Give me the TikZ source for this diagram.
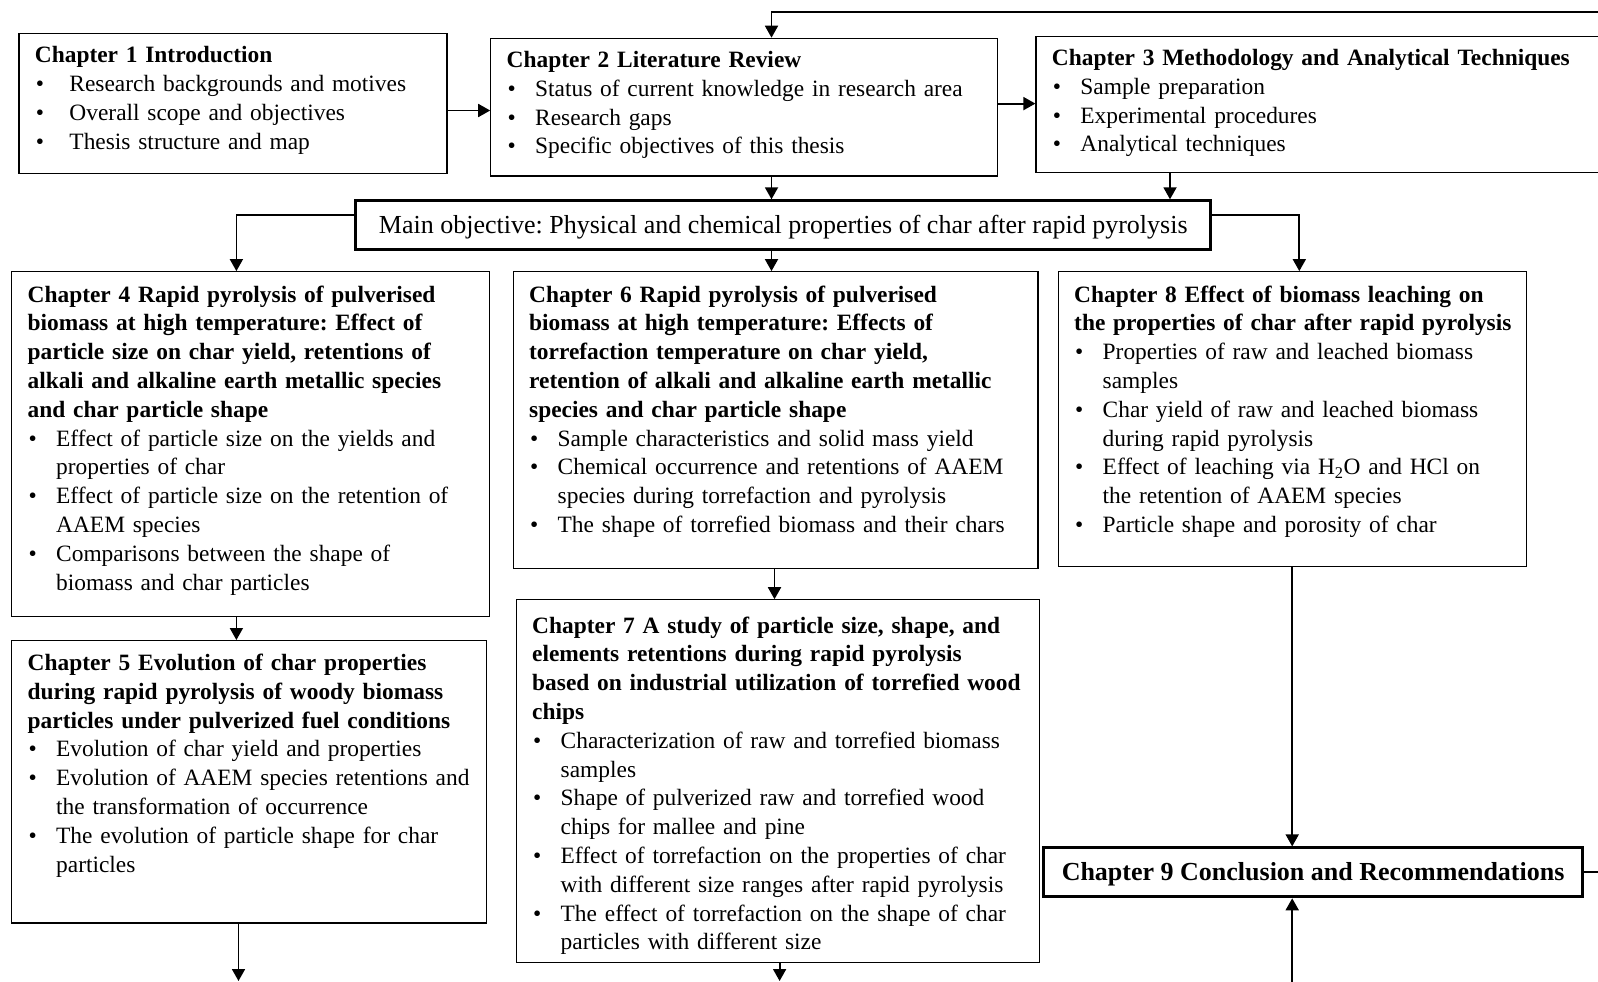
\documentclass[tikz,border=0pt]{standalone}
\usepackage{fontspec}
\setmainfont{Liberation Serif}
\usetikzlibrary{arrows.meta}
\frenchspacing
\newlength{\bind}
\newcommand{\bl}{\makebox[\bind][l]{\hspace{1pt}\textbullet}}
\newcommand{\cl}{\hspace*{\bind}}
\tikzset{
  box/.style={draw=black, line width=1.2pt, anchor=north west, inner sep=0pt},
  tbox/.style={draw=black, line width=3pt, inner sep=0pt, text height=16pt, text depth=0pt,
               font=\fontsize{26}{30}\selectfont},
  txt/.style={anchor=base west, inner sep=0pt, text width=640pt, align=left,
              font=\fontsize{23.4}{28.8}\selectfont},
  conn/.style={line width=1.8pt, -{Triangle[length=12pt,width=13pt]}},
  plainline/.style={line width=1.8pt},
}
\begin{document}
\begin{tikzpicture}[x=1pt,y=-1pt]
\clip (0,0) rectangle (1598,982);
\fill[white] (0,0) rectangle (1598,982);
% boxes
\node[box, minimum width=428.1, minimum height=140.6] (c1) at (18.3,32.6) {};
\node[box, minimum width=506.5, minimum height=137.6] (c2) at (490.2,37.7) {};
\node[box, minimum width=600, minimum height=136.5] (c3) at (1035.4,35.7) {};
\node[box, minimum width=478, minimum height=344.4] (c4) at (11.2,271.1) {};
\node[box, minimum width=524.8, minimum height=296.5] (c6) at (512.6,271.1) {};
\node[box, minimum width=467.8, minimum height=294.5] (c8) at (1057.8,271.1) {};
\node[box, minimum width=474.9, minimum height=282.3] (c5) at (11.2,640) {};
\node[box, minimum width=522.8, minimum height=362.8] (c7) at (515.7,599.2) {};
\node[tbox, minimum width=855, minimum height=48.9] (main) at (783.2,225.25)
  {Main objective: Physical and chemical properties of char after rapid pyrolysis};
\node[tbox, minimum width=539, minimum height=48.9] (c9) at (1313.1,872.35)
  {\textbf{Chapter 9 Conclusion and Recommendations}};
% texts
\node[txt] (t1) at (34.7,63) {\setlength{\bind}{34.6pt}%
\textbf{Chapter 1 Introduction}\\
\bl Research backgrounds and motives\\
\bl Overall scope and objectives\\
\bl Thesis structure and map};
\node[txt] (t2) at (506.5,67.5) {\setlength{\bind}{28.5pt}%
\textbf{Chapter 2 Literature Review}\\
\bl Status of current knowledge in research area\\
\bl Research gaps\\
\bl Specific objectives of this thesis};
\node[txt] (t3) at (1051.7,65.5) {\setlength{\bind}{28.5pt}%
\textbf{Chapter 3 Methodology and Analytical Techniques}\\
\bl Sample preparation\\
\bl Experimental procedures\\
\bl Analytical techniques};
\node[txt] (t4) at (27.5,302) {\setlength{\bind}{28.5pt}%
\textbf{Chapter 4 Rapid pyrolysis of pulverised}\\
\textbf{biomass at high temperature: Effect of}\\
\textbf{particle size on char yield, retentions of}\\
\textbf{alkali and alkaline earth metallic species}\\
\textbf{and char particle shape}\\
\bl Effect of particle size on the yields and\\
\cl properties of char\\
\bl Effect of particle size on the retention of\\
\cl AAEM species\\
\bl Comparisons between the shape of\\
\cl biomass and char particles};
\node[txt] (t6) at (529,302) {\setlength{\bind}{28.5pt}%
\textbf{Chapter 6 Rapid pyrolysis of pulverised}\\
\textbf{biomass at high temperature: Effects of}\\
\textbf{torrefaction temperature on char yield,}\\
\textbf{retention of alkali and alkaline earth metallic}\\
\textbf{species and char particle shape}\\
\bl Sample characteristics and solid mass yield\\
\bl Chemical occurrence and retentions of AAEM\\
\cl species during torrefaction and pyrolysis\\
\bl The shape of torrefied biomass and their chars};
\node[txt] (t8) at (1074,302) {\setlength{\bind}{28.5pt}%
\textbf{Chapter 8 Effect of biomass leaching on}\\
\textbf{the properties of char after rapid pyrolysis}\\
\bl Properties of raw and leached biomass\\
\cl samples\\
\bl Char yield of raw and leached biomass\\
\cl during rapid pyrolysis\\
\bl Effect of leaching via H\textsubscript{2}O and HCl on\\
\cl the retention of AAEM species\\
\bl Particle shape and porosity of char};
\node[txt] (t5) at (27.5,670.5) {\setlength{\bind}{28.5pt}%
\textbf{Chapter 5 Evolution of char properties}\\
\textbf{during rapid pyrolysis of woody biomass}\\
\textbf{particles under pulverized fuel conditions}\\
\bl Evolution of char yield and properties\\
\bl Evolution of AAEM species retentions and\\
\cl the transformation of occurrence\\
\bl The evolution of particle shape for char\\
\cl particles};
\node[txt] (t7) at (532,633) {\setlength{\bind}{28.5pt}%
\textbf{Chapter 7 A study of particle size, shape, and}\\
\textbf{elements retentions during rapid pyrolysis}\\
\textbf{based on industrial utilization of torrefied wood}\\
\textbf{chips}\\
\bl Characterization of raw and torrefied biomass\\
\cl samples\\
\bl Shape of pulverized raw and torrefied wood\\
\cl chips for mallee and pine\\
\bl Effect of torrefaction on the properties of char\\
\cl with different size ranges after rapid pyrolysis\\
\bl The effect of torrefaction on the shape of char\\
\cl particles with different size};
% helper coordinates
\coordinate (tr) at (1620,12.2);
\coordinate (tl) at (771.5,12.2);
\coordinate (x3) at (1170,0);
\coordinate (x4) at (236.4,0);
\coordinate (x8) at (1299.3,0);
\coordinate (x67) at (774.5,0);
\coordinate (x9) at (1292.2,0);
\coordinate (b9) at (1292.2,1000);
\coordinate (e9) at (1620,0);
\coordinate (b5) at (238.5,981);
\coordinate (b7) at (779.6,981);
% connectors
\draw[conn] ([yshift=-7pt]c1.east) -- ([yshift=-7pt]c1.east -| c2.west);
\draw[conn] ([yshift=3.5pt]c2.east) -- ([yshift=3.5pt]c2.east -| c3.west);
\draw[conn] (tr) -- (tl) -- (tl |- c2.north);
\draw[conn] (c2.south -| tl) -- (main.north -| tl);
\draw[conn] (c3.south -| x3) -- (main.north -| x3);
\draw[conn] ([yshift=10pt]main.west) -- ([yshift=10pt]main.west -| x4) -- (x4 |- c4.north);
\draw[conn] (main.south -| tl) -- (c6.north -| tl);
\draw[conn] ([yshift=10pt]main.east) -- ([yshift=10pt]main.east -| x8) -- (x8 |- c8.north);
\draw[conn] (c4.south -| x4) -- (c5.north -| x4);
\draw[conn] (c6.south -| x67) -- (c7.north -| x67);
\draw[conn] (c8.south -| x9) -- (c9.north -| x9);
\draw[plainline] (c9.east) -- (c9.east -| e9);
\draw[conn] (b9) -- (c9.south -| b9);
\draw[conn] (c5.south -| b5) -- (b5);
\draw[conn] (c7.south -| b7) -- (b7);
\end{tikzpicture}
\end{document}
